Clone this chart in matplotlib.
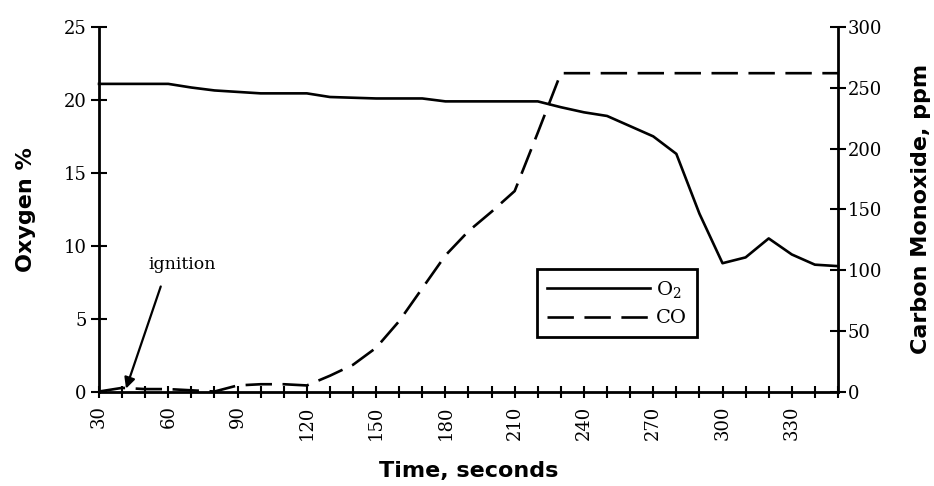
import matplotlib
matplotlib.use("Agg")
import matplotlib.pyplot as plt

plt.rcParams['font.family'] = ['DejaVu Serif']
plt.rcParams['mathtext.fontset'] = 'dejavuserif'

# time in seconds, readings every 10 s
time_s = list(range(30, 351, 10))
oxygen = [21.1, 21.1, 21.1, 21.1, 20.85, 20.65, 20.55, 20.45, 20.45, 20.45,
          20.2, 20.15, 20.1, 20.1, 20.1, 19.9, 19.9, 19.9, 19.9, 19.9,
          19.5, 19.15, 18.9, 18.2, 17.5, 16.3, 12.2, 8.8, 9.2, 10.5,
          9.4, 8.7, 8.6]
co_ppm = [0, 3, 2, 2, 1, 0, 5, 6, 6, 5,
          13, 22, 36, 58, 85, 112, 132, 148, 165, 213,
          262, 262, 262, 262, 262, 262, 262, 262, 262, 262,
          262, 262, 262]

x_labels = list(range(30, 331, 30))
o2_ticks = [0, 5, 10, 15, 20, 25]
co_ticks = [0, 50, 100, 150, 200, 250, 300]

fig = plt.figure(figsize=(9.34, 4.86), dpi=100)
ax = fig.add_axes([0.106, 0.1944, 0.7912, 0.75])
ax2 = ax.twinx()

l1, = ax.plot(time_s, oxygen, color='black', lw=1.9, label='O$_2$', clip_on=False)
l2, = ax2.plot(time_s, co_ppm, color='black', lw=1.9, dashes=(10, 4),
               label='CO', clip_on=False)

ax.set_xlim(30, 350)
ax.set_ylim(0, 25)
ax2.set_ylim(0, 300)

ax.set_xticks(x_labels)
ax.set_xticks(time_s, minor=True)
ax.set_xticklabels([str(v) for v in x_labels], rotation=90)
ax.set_yticks(o2_ticks)
ax2.set_yticks(co_ticks)

ax.tick_params(axis='x', which='both', direction='inout', length=8, width=1.5,
               labelsize=13, pad=6)
ax.tick_params(axis='y', direction='inout', length=12, width=1.5,
               labelsize=13, pad=3)
ax2.tick_params(axis='y', direction='inout', length=12, width=1.5,
                labelsize=13, pad=1)

for a in (ax, ax2):
    a.spines['top'].set_visible(False)
    for s in a.spines.values():
        s.set_linewidth(2)
ax.spines['right'].set_visible(False)
ax2.spines['left'].set_visible(False)
ax2.spines['bottom'].set_visible(False)

ax.set_xlabel('Time, seconds', family='DejaVu Sans', fontweight='bold',
              fontsize=16, labelpad=15)
ax.set_ylabel('Oxygen %', family='DejaVu Sans', fontweight='bold',
              fontsize=16, labelpad=20)
ax2.set_ylabel('Carbon Monoxide, ppm', family='DejaVu Sans', fontweight='bold',
               fontsize=16, labelpad=21)

ax.annotate('ignition', xy=(41.7, 0.2), xytext=(66, 8.7), ha='center', va='center',
            fontsize=12.5,
            arrowprops=dict(arrowstyle='-|>', color='black', lw=1.6,
                            mutation_scale=16, relpos=(0.25, 0), shrinkA=8,
                            shrinkB=0))

leg = ax2.legend(handles=[l1, l2], loc='lower left', bbox_to_anchor=(0.593, 0.1495),
                 borderaxespad=0, fontsize=14, handlelength=5.3, handletextpad=0.3,
                 labelspacing=0.5, fancybox=False, framealpha=1,
                 edgecolor='black', borderpad=0.5)
leg.get_frame().set_linewidth(2)

fig.savefig('out.png', dpi=100)
